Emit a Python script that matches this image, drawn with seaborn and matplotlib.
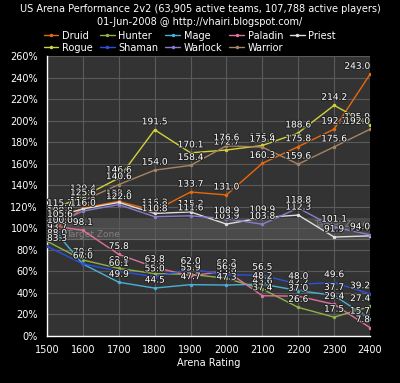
import matplotlib
matplotlib.use("Agg")
import matplotlib.pyplot as plt
import matplotlib.patheffects as pe
import seaborn as sns
import pandas as pd

ratings = [1500, 1600, 1700, 1800, 1900, 2000, 2100, 2200, 2300, 2400]
classes = ["Druid", "Hunter", "Mage", "Paladin", "Priest",
           "Rogue", "Shaman", "Warlock", "Warrior"]
druid   = [93.7, 118.8, 125.0, 116.3, 133.7, 131.0, 160.3, 175.8, 192.1, 243.0]
hunter  = [88.0, 70.6, 62.8, 57.9, 57.3, 53.6, 43.6, 26.6, 17.5, 27.4]
mage    = [106.0, 66.8, 49.9, 44.5, 47.7, 47.3, 48.2, 42.2, 37.7, 15.7]
paladin = [103.0, 98.1, 75.8, 63.8, 55.9, 60.3, 37.4, 37.0, 29.4, 7.8]
priest  = [108.8, 118.0, 124.0, 113.8, 115.2, 103.9, 109.9, 112.3, 91.9, 93.0]
rogue   = [115.7, 129.4, 146.6, 191.5, 170.1, 172.7, 176.9, 188.6, 214.2, 195.9]
shaman  = [83.3, 67.0, 60.1, 55.0, 62.0, 56.9, 56.5, 48.0, 49.6, 39.2]
warlock = [100.0, 116.0, 122.0, 110.8, 111.6, 108.9, 103.8, 118.8, 101.1, 94.0]
warrior = [105.6, 125.6, 140.6, 154.0, 158.4, 176.6, 175.4, 159.6, 175.6, 192.0]
series = [druid, hunter, mage, paladin, priest, rogue, shaman, warlock, warrior]
colors = ["#e8680c", "#8fb04a", "#4ab0d8", "#e0709c", "#dedede",
          "#d2d23c", "#2a52e0", "#8a7ccc", "#a88462"]
title = "US Arena Performance 2v2 (63,905 active teams, 107,788 active players)\n01-Jun-2008 @ http://vhairi.blogspot.com/"

rows = []
for c, vals in zip(classes, series):
    for r, v in zip(ratings, vals):
        rows.append({"Class": c, "Rating": r, "Value": v})
df = pd.DataFrame(rows)

sns.set_style("dark")
plt.rcParams['font.family'] = ['DejaVu Sans']
fig = plt.figure(figsize=(4.0, 3.83), dpi=100, facecolor="black")
ax = fig.add_axes([0.1175, 0.1227, 0.8075, 0.7311])
ax.set_facecolor("#333333")

palette = dict(zip(classes, colors))
sns.lineplot(data=df, x="Rating", y="Value", hue="Class", hue_order=classes,
             palette=palette, marker="o", markersize=2.5, markeredgewidth=0,
             linewidth=1.0, ax=ax, legend=True, zorder=3)

# target zone
ax.axhspan(90, 110, color="#4a4a4a", zorder=0.5, lw=0)
ax.axhline(90, color="#6a6a6a", lw=0.8, zorder=0.6)
ax.text(1552, 94, "Target Zone", color="#808080", fontsize=6.5, ha="left", va="center", zorder=1)
ax.text(2395, 104, "Target Zone", color="#808080", fontsize=6.5, ha="right", va="center", zorder=1)

ax.set_xlim(1500, 2400)
ax.set_ylim(0, 260)
ax.set_xticks(ratings)
ax.set_yticks(range(0, 261, 20))
ax.set_yticklabels([f"{v}%" for v in range(0, 261, 20)])
ax.grid(True, color="#5a5a5a", lw=0.8)
ax.set_axisbelow(True)
ax.tick_params(colors="white", labelsize=7, length=3, width=0.8)
for s in ["top", "right"]:
    ax.spines[s].set_visible(False)
for s in ["left", "bottom"]:
    ax.spines[s].set_color("white")
    ax.spines[s].set_linewidth(1)
ax.set_xlabel("Arena Rating", color="white", fontsize=7, labelpad=2)
ax.set_ylabel("")

stroke = [pe.withStroke(linewidth=1.5, foreground="#222222")]
for vals in series:
    for i, (r, v) in enumerate(zip(ratings, vals)):
        ha = "left" if i == 0 else ("right" if i == len(ratings) - 1 else "center")
        ax.annotate(f"{v:.1f}", (r, v), xytext=(0, 2.5), textcoords="offset points",
                    ha=ha, va="bottom", fontsize=6.5, color="white",
                    path_effects=stroke, zorder=5, annotation_clip=False)

handles, labels = ax.get_legend_handles_labels()
ax.get_legend().remove()
order = [0, 5, 1, 6, 2, 7, 3, 8, 4]
leg = fig.legend([handles[i] for i in order], [labels[i] for i in order],
                 loc="upper center", bbox_to_anchor=(0.475, 0.93),
                 ncol=5, frameon=False, fontsize=7, labelcolor="white",
                 handlelength=1.5, handletextpad=0.4, columnspacing=0.7,
                 labelspacing=0.2, borderaxespad=0)

fig.text(0.5, 0.99, title, color="white", fontsize=7, ha="center", va="top",
         linespacing=1.45)

fig.savefig("out.png", dpi=100, facecolor="black")
